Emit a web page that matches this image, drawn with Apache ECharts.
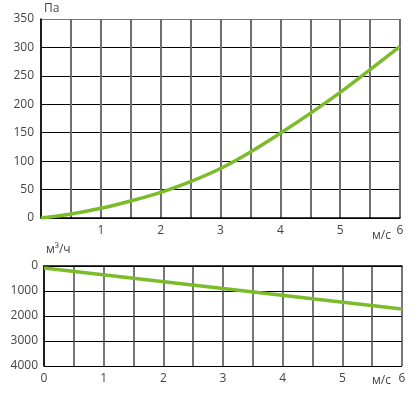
<!DOCTYPE html>
<html><head><meta charset="utf-8">
<script src="https://cdn.jsdelivr.net/npm/echarts@6/dist/echarts.min.js"></script>
<style>html,body{margin:0;padding:0;background:#fff}#c{width:412px;height:393px}</style>
</head><body><div id="c"></div>
<script>
const speed = [0, 0.5, 1, 1.5, 2, 2.5, 3, 3.5, 4, 4.5, 5, 5.5, 6];
const pressure = [0, 7, 17, 30, 45, 64, 87, 116, 149, 184, 221, 261, 302];
const flowSpeed = [0, 6];
const flow = [80, 1720];
const pressureTicks = [0, 50, 100, 150, 200, 250, 300, 350];
const flowTicks = [0, 1000, 2000, 3000, 4000];
const unitP = 'Па', unitV = 'м/с', unitQ = 'м³/ч';

const font = 'Open Sans';
const lab = {color:'#444', fontFamily:font, fontSize:12};
const green = '#7cbb2a';
const chart = echarts.init(document.getElementById('c'));
chart.setOption({
  animation:false,
  grid:[{left:41, top:19, right:12, height:199},{left:44, top:266, right:10, height:100}],
  xAxis:[
    {gridIndex:0, type:'value', min:0, max:6, interval:0.5,
     axisLine:{lineStyle:{color:'#000', width:1.5}}, axisTick:{show:false},
     axisLabel:Object.assign({margin:7, formatter:v=>(Number.isInteger(v)&&v>0)?String(v):''}, lab),
     splitLine:{show:true, lineStyle:{color:'#6f6f6f', width:2}}},
    {gridIndex:1, type:'value', min:0, max:6, interval:0.5,
     axisLine:{lineStyle:{color:'#000', width:1.5}}, axisTick:{show:false},
     axisLabel:Object.assign({margin:7, formatter:v=>Number.isInteger(v)?String(v):''}, lab),
     splitLine:{show:true, lineStyle:{color:'#4a4a4a', width:1.5}}}
  ],
  yAxis:[
    {gridIndex:0, type:'value', min:pressureTicks[0], max:pressureTicks[pressureTicks.length-1], interval:50,
     axisLine:{show:true, lineStyle:{color:'#000', width:1.5}}, axisTick:{show:false},
     axisLabel:Object.assign({margin:7, formatter:v=>String(v)}, lab),
     splitLine:{show:true, lineStyle:{color:['#000','#000','#000','#000','#000','#000','#000','#777'], width:1.2}}},
    {gridIndex:1, type:'value', inverse:true, min:flowTicks[0], max:flowTicks[flowTicks.length-1], interval:1000,
     axisLine:{show:true, lineStyle:{color:'#000', width:1.5}}, axisTick:{show:false},
     axisLabel:Object.assign({margin:6, formatter:v=>String(v)}, lab),
     splitLine:{show:true, lineStyle:{color:'#000', width:1.2}}}
  ],
  series:[
    {type:'line', xAxisIndex:0, yAxisIndex:0, smooth:0.4, symbol:'none',
     lineStyle:{color:green, width:3.5}, data:speed.map((s,i)=>[s,pressure[i]])},
    {type:'line', xAxisIndex:1, yAxisIndex:1, symbol:'none',
     lineStyle:{color:green, width:3.5}, data:flowSpeed.map((s,i)=>[s,flow[i]])}
  ],
  graphic:[
    {type:'text', left:44, top:3, style:{text:unitP, fill:'#444', font:'12px "Open Sans"'}},
    {type:'text', left:372, top:230, style:{text:unitV, fill:'#444', font:'12px "Open Sans"'}},
    {type:'text', left:46, top:244, style:{text:unitQ, fill:'#444', font:'12px "Open Sans"'}},
    {type:'text', left:372, top:375, style:{text:unitV, fill:'#444', font:'12px "Open Sans"'}}
  ]
});
</script></body></html>
